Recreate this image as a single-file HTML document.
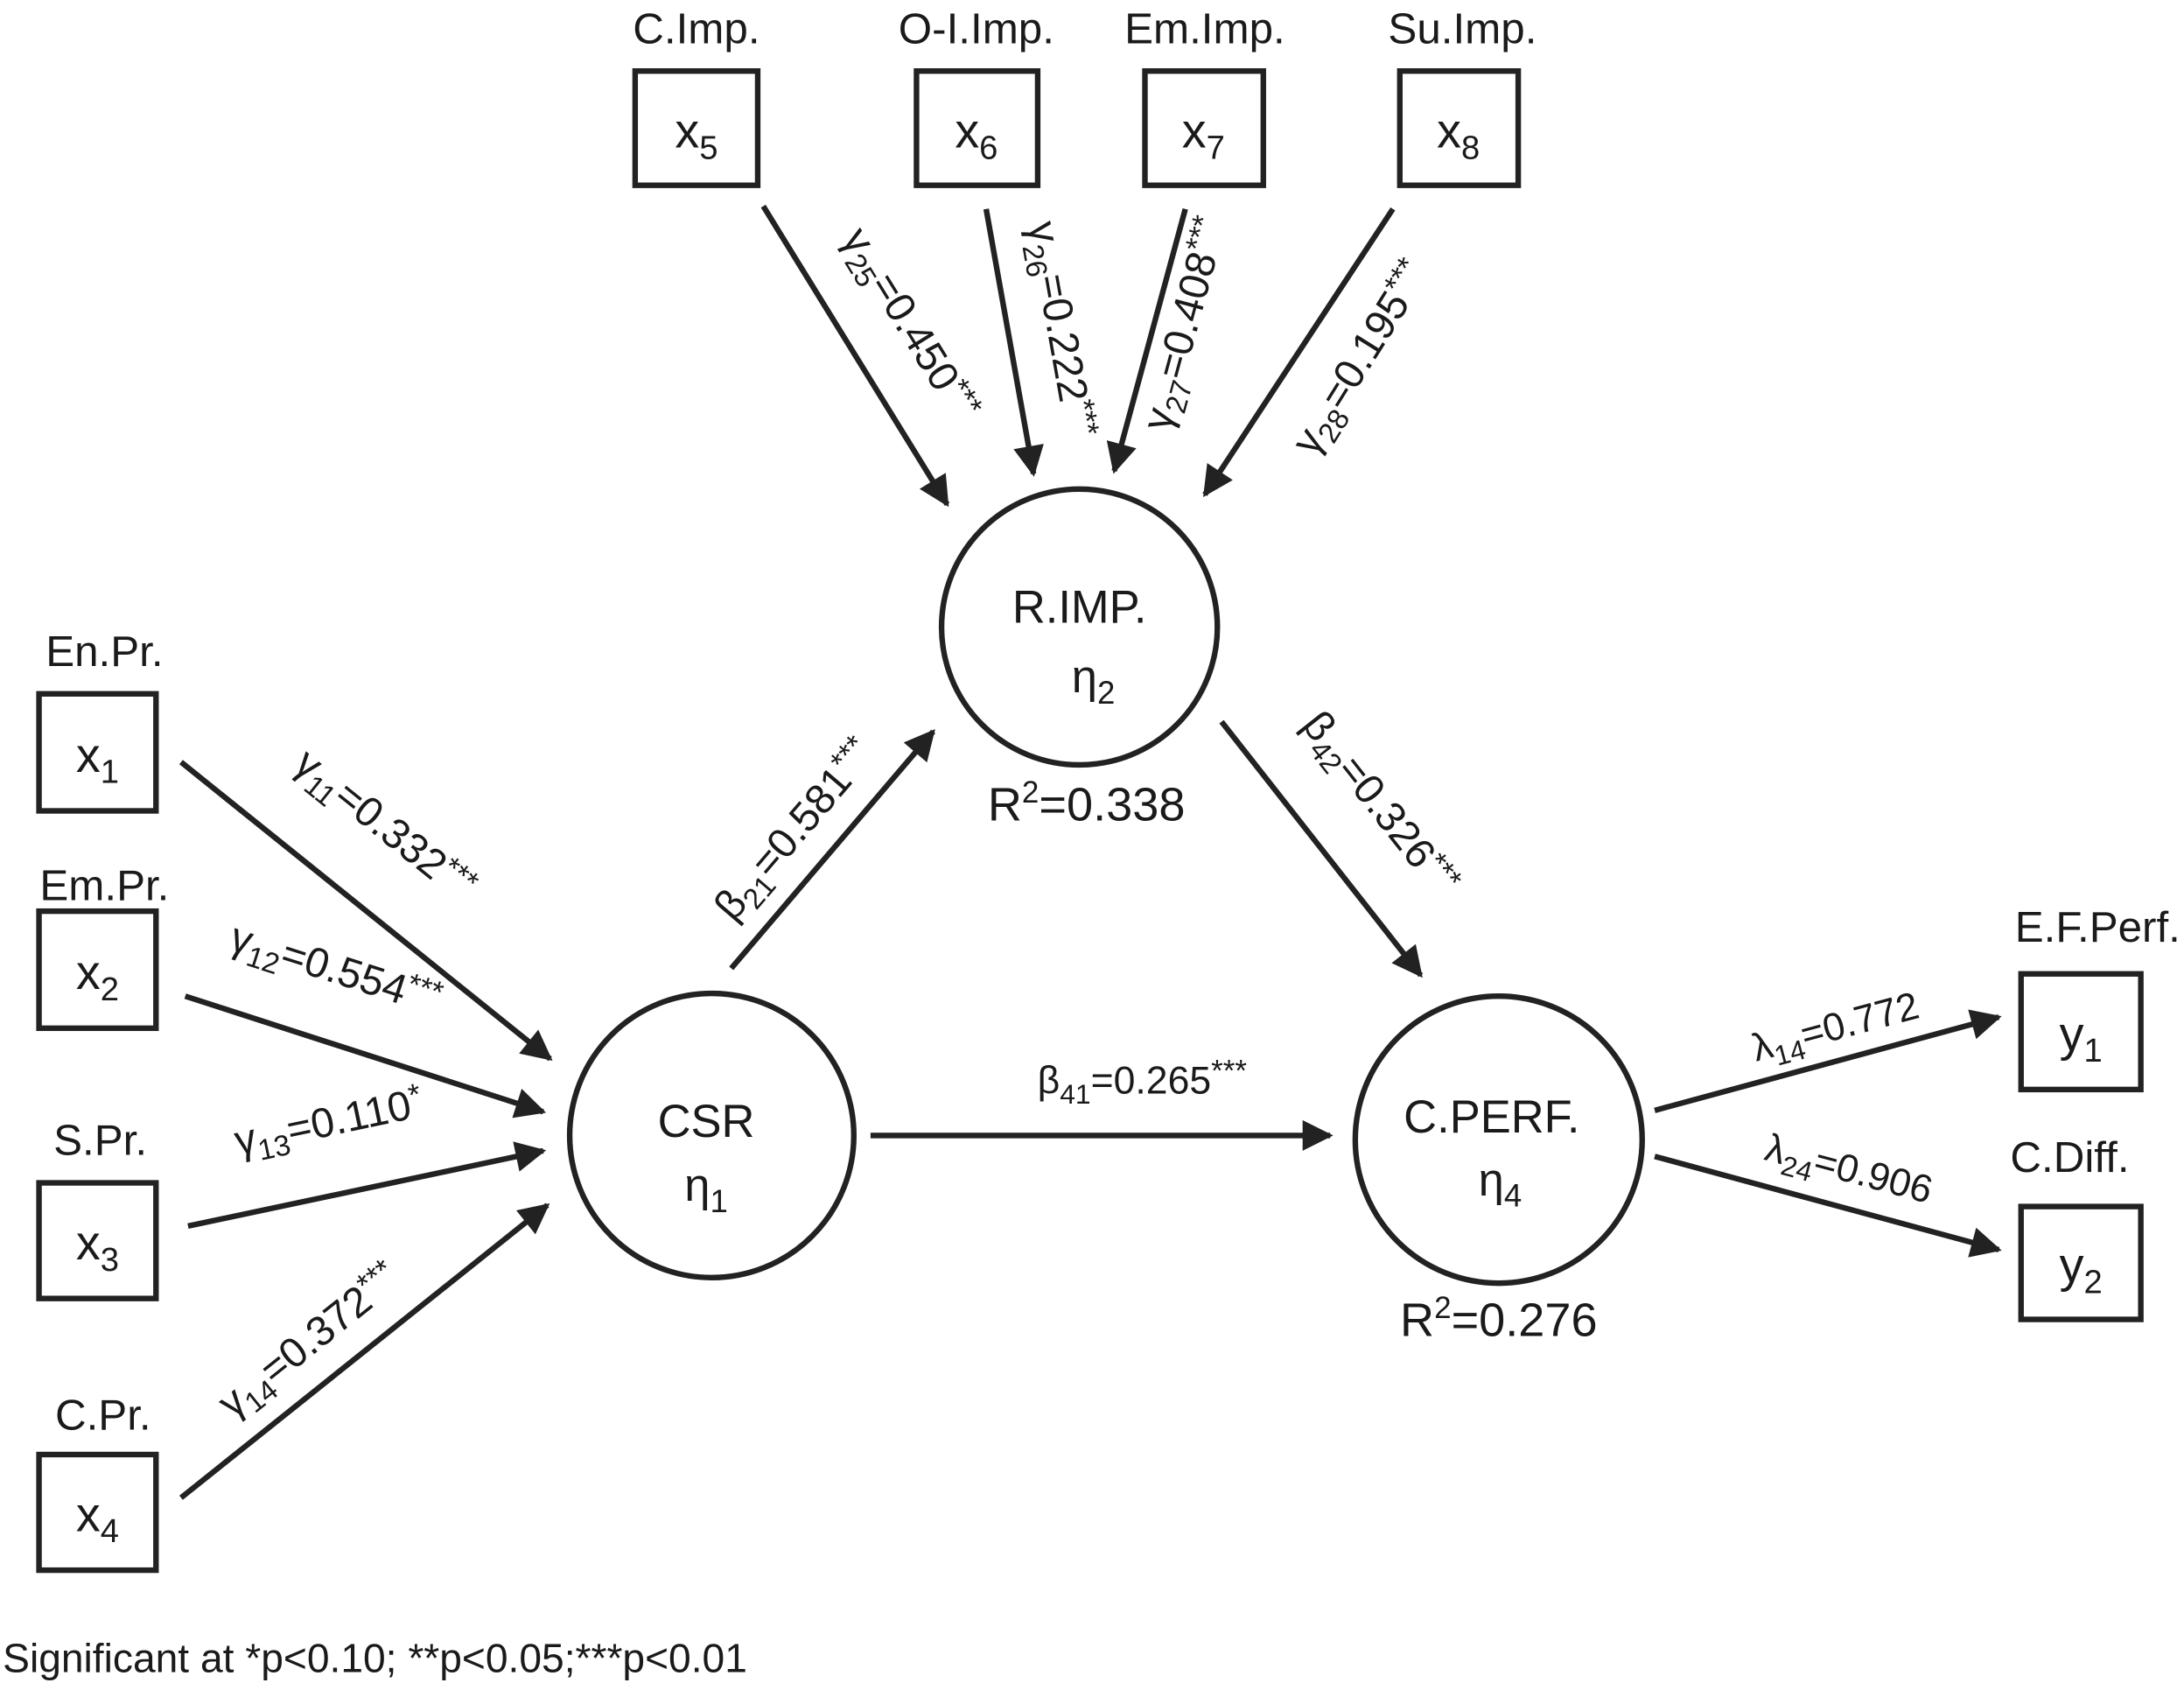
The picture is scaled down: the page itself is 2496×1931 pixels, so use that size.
<!DOCTYPE html>
<html><head><meta charset="utf-8"><style>
html,body{margin:0;padding:0;background:#fff;}
svg{display:block;}
text{font-family:"Liberation Sans","DejaVu Sans",sans-serif;fill:#1a1a1a;}
</style></head><body>
<svg width="2496" height="1931" viewBox="0 0 1568 1213" preserveAspectRatio="none" xmlns="http://www.w3.org/2000/svg">
<defs>
<marker id="ah" viewBox="0 0 10 10" refX="9" refY="5" markerWidth="6" markerHeight="5.5" orient="auto" markerUnits="strokeWidth">
<path d="M0,0 L10,5 L0,10 z" fill="#222"/>
</marker>
</defs>
<g fill="none" stroke="#222" stroke-width="4">
<rect x="456" y="51" width="88" height="82"/>
<rect x="658" y="51" width="87" height="82"/>
<rect x="822" y="51" width="85" height="82"/>
<rect x="1005" y="51" width="85" height="82"/>
<rect x="28" y="498" width="84" height="84"/>
<rect x="28" y="654" width="84" height="84"/>
<rect x="28" y="849" width="84" height="83"/>
<rect x="28" y="1044" width="84" height="83"/>
<rect x="1451" y="699" width="86" height="83"/>
<rect x="1451" y="866" width="86" height="81"/>
<circle cx="775" cy="450" r="99"/>
<circle cx="511" cy="815" r="102"/>
<circle cx="1076" cy="818" r="103"/>
</g>
<g stroke="#222" stroke-width="4" marker-end="url(#ah)" fill="none">
<line x1="548" y1="148" x2="680" y2="362"/>
<line x1="708" y1="150" x2="742" y2="340"/>
<line x1="851" y1="150" x2="800" y2="338"/>
<line x1="1000" y1="150" x2="865" y2="355"/>
<line x1="130" y1="547" x2="395" y2="760"/>
<line x1="133" y1="715" x2="390" y2="798"/>
<line x1="135" y1="880" x2="390" y2="826"/>
<line x1="130" y1="1075" x2="393" y2="865"/>
<line x1="525" y1="695" x2="670" y2="525"/>
<line x1="877" y1="518" x2="1020" y2="700"/>
<line x1="625" y1="815" x2="955" y2="815"/>
<line x1="1188" y1="797" x2="1435" y2="730"/>
<line x1="1188" y1="830" x2="1435" y2="897"/>
</g>
<g font-size="31" text-anchor="middle">
<text x="500" y="31">C.Imp.</text>
<text x="701" y="31">O-I.Imp.</text>
<text x="865" y="31">Em.Imp.</text>
<text x="1050" y="31">Su.Imp.</text>
<text x="75" y="478">En.Pr.</text>
<text x="75" y="646">Em.Pr.</text>
<text x="72" y="829">S.Pr.</text>
<text x="74" y="1026">C.Pr.</text>
<text x="1506" y="676">E.F.Perf.</text>
<text x="1486" y="841">C.Diff.</text>
</g>
<g font-size="35" text-anchor="middle">
<text x="500" y="106">x<tspan font-size="24" dy="8">5</tspan></text>
<text x="701" y="106">x<tspan font-size="24" dy="8">6</tspan></text>
<text x="864" y="106">x<tspan font-size="24" dy="8">7</tspan></text>
<text x="1047" y="106">x<tspan font-size="24" dy="8">8</tspan></text>
<text x="70" y="554">x<tspan font-size="24" dy="8">1</tspan></text>
<text x="70" y="710">x<tspan font-size="24" dy="8">2</tspan></text>
<text x="70" y="904">x<tspan font-size="24" dy="8">3</tspan></text>
<text x="70" y="1099">x<tspan font-size="24" dy="8">4</tspan></text>
<text x="1494" y="754">y<tspan font-size="24" dy="8">1</tspan></text>
<text x="1494" y="920">y<tspan font-size="24" dy="8">2</tspan></text>
</g>
<g font-size="33" text-anchor="middle">
<text x="775" y="447">R.IMP.</text>
<text x="785" y="497">η<tspan font-size="23" dy="8">2</tspan></text>
<text x="780" y="589" font-size="34">R<tspan font-size="22" dy="-13">2</tspan><tspan dy="13">=0.338</tspan></text>
<text x="507" y="816">CSR</text>
<text x="507" y="862">η<tspan font-size="23" dy="8">1</tspan></text>
<text x="1071" y="813">C.PERF.</text>
<text x="1077" y="858">η<tspan font-size="23" dy="8">4</tspan></text>
<text x="1076" y="959" font-size="34">R<tspan font-size="22" dy="-13">2</tspan><tspan dy="13">=0.276</tspan></text>
</g>
<g font-size="30" text-anchor="middle">
<text transform="translate(645,238) rotate(58.3)">γ<tspan font-size="21" dy="7">25</tspan><tspan dy="-7">=0.450</tspan><tspan font-size="22" dy="-9">***</tspan></text>
<text transform="translate(752,238) rotate(79.9)">γ<tspan font-size="21" dy="7">26</tspan><tspan dy="-7">=0.222</tspan><tspan font-size="22" dy="-9">***</tspan></text>
<text transform="translate(860,235) rotate(-74.8)">γ<tspan font-size="21" dy="7">27</tspan><tspan dy="-7">=0.408</tspan><tspan font-size="22" dy="-9">***</tspan></text>
<text transform="translate(985,262) rotate(-58)">γ<tspan font-size="21" dy="7">28</tspan><tspan dy="-7">=0.195</tspan><tspan font-size="22" dy="-9">***</tspan></text>
<text transform="translate(270,600) rotate(38.8)">γ<tspan font-size="21" dy="7">11</tspan><tspan dy="-7">=0.332</tspan><tspan font-size="22" dy="-9">***</tspan></text>
<text transform="translate(238,705) rotate(17.7)">γ<tspan font-size="21" dy="7">12</tspan><tspan dy="-7">=0.554</tspan><tspan font-size="22" dy="-9">***</tspan></text>
<text transform="translate(238,815) rotate(-11.9)">γ<tspan font-size="21" dy="7">13</tspan><tspan dy="-7">=0.110</tspan><tspan font-size="22" dy="-9">*</tspan></text>
<text transform="translate(228,970) rotate(-38.6)">γ<tspan font-size="21" dy="7">14</tspan><tspan dy="-7">=0.372</tspan><tspan font-size="22" dy="-9">***</tspan></text>
<text transform="translate(578,602) rotate(-49.5)">β<tspan font-size="21" dy="7">21</tspan><tspan dy="-7">=0.581</tspan><tspan font-size="22" dy="-9">***</tspan></text>
<text transform="translate(983,583) rotate(51.8)">β<tspan font-size="21" dy="7">42</tspan><tspan dy="-7">=0.326</tspan><tspan font-size="22" dy="-9">***</tspan></text>
<text x="820" y="785" font-size="28">β<tspan font-size="20" dy="7">41</tspan><tspan dy="-7">=0.265</tspan><tspan font-size="22" dy="-9">***</tspan></text>
<text transform="translate(1320,746) rotate(-15)" font-size="28">λ<tspan font-size="20" dy="7">14</tspan><tspan dy="-7">=0.772</tspan></text>
<text transform="translate(1325,848) rotate(15)" font-size="28">λ<tspan font-size="20" dy="7">24</tspan><tspan dy="-7">=0.906</tspan></text>
</g>
<text x="2" y="1200" font-size="29">Significant at *p&lt;0.10; **p&lt;0.05;***p&lt;0.01</text>
</svg>
</body></html>
